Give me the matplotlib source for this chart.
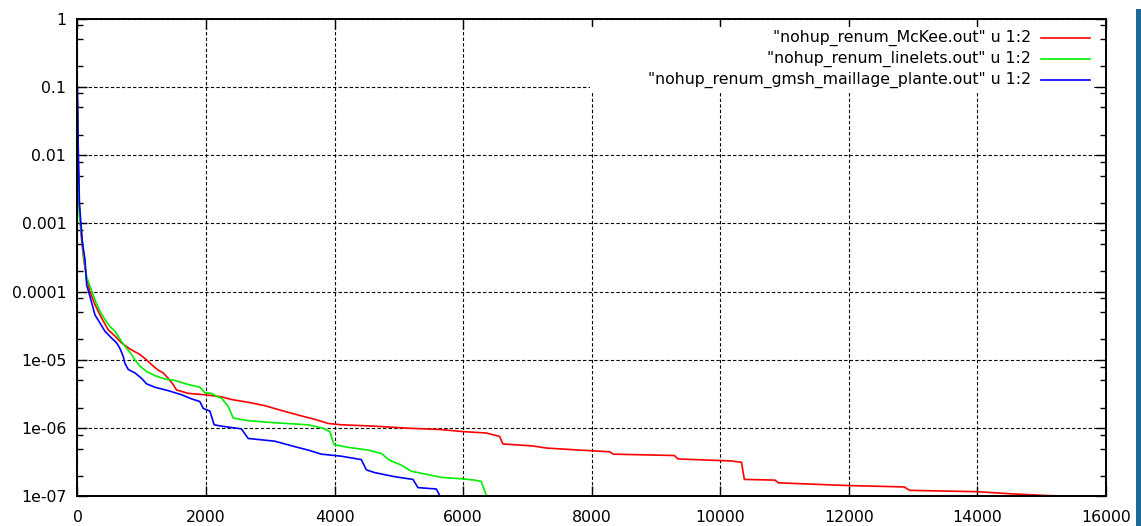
import matplotlib
matplotlib.use("Agg")

import matplotlib.pyplot as plt
import numpy as np
from matplotlib.patches import Rectangle
from matplotlib.ticker import FixedLocator, FixedFormatter, LogLocator, NullFormatter


# iteration number vs residual (log10 of residual)
mckee_x = [0, 10, 30, 60, 100, 142, 194, 272, 376, 479, 583, 686, 816, 971,
           1075, 1178, 1256, 1334, 1412, 1489, 1541, 1723, 1982, 2240, 2396,
           2655, 2914, 3173, 3484, 3692, 3898, 4105, 4623, 5141, 5659, 6000,
           6360, 6462, 6566, 6618, 7084, 7291, 7804, 8279, 8335, 9285, 9341,
           10179, 10330, 10374, 10849, 10905, 11995, 12861, 12945, 14006,
           14509, 15068, 15459]
mckee_log = [-1.2, -2.0, -2.8, -3.2, -3.55, -3.80, -4.0, -4.19, -4.39, -4.56,
             -4.65, -4.75, -4.84, -4.92, -5.0, -5.09, -5.15, -5.19, -5.27,
             -5.36, -5.44, -5.49, -5.51, -5.54, -5.58, -5.62, -5.67, -5.74,
             -5.82, -5.87, -5.93, -5.95, -5.97, -6.0, -6.02, -6.05, -6.07,
             -6.095, -6.12, -6.23, -6.26, -6.29, -6.32, -6.345, -6.38, -6.40,
             -6.45, -6.48, -6.50, -6.75, -6.76, -6.80, -6.84, -6.86, -6.91,
             -6.93, -6.96, -6.985, -6.998]

linelets_x = [0, 10, 30, 65, 100, 142, 194, 272, 350, 427, 505, 583, 686,
              764, 842, 894, 971, 1075, 1204, 1360, 1515, 1723, 1904, 1982,
              2085, 2163, 2240, 2344, 2422, 2655, 3069, 3587, 3820, 3924, 3991,
              4209, 4520, 4727, 4857, 5038, 5193, 5452, 5659, 5970, 6177, 6281,
              6359, 6436]
linelets_log = [-1.3, -2.1, -2.9, -3.15, -3.5, -3.78, -3.92, -4.12, -4.29,
                -4.41, -4.51, -4.58, -4.73, -4.83, -4.92, -5.0, -5.09, -5.17,
                -5.23, -5.28, -5.30, -5.36, -5.40, -5.48, -5.49, -5.53, -5.56,
                -5.68, -5.85, -5.89, -5.92, -5.95, -6.0, -6.05, -6.24, -6.28,
                -6.32, -6.37, -6.47, -6.54, -6.63, -6.68, -6.72, -6.74, -6.76,
                -6.78, -6.98, -7.03]

gmsh_x = [0, 10, 30, 75, 117, 142, 194, 272, 350, 427, 531, 609, 660, 712,
          738, 790, 894, 997, 1075, 1204, 1412, 1619, 1774, 1904, 1956, 2060,
          2127, 2240, 2551, 2655, 3069, 3380, 3587, 3794, 4105, 4416, 4494,
          4623, 4934, 5219, 5297, 5582, 5644]
gmsh_log = [-1.0, -1.8, -2.7, -3.27, -3.53, -3.90, -4.07, -4.34, -4.46, -4.58,
            -4.68, -4.75, -4.83, -4.95, -5.05, -5.14, -5.19, -5.27, -5.35,
            -5.40, -5.45, -5.51, -5.57, -5.61, -5.71, -5.75, -5.95, -5.97,
            -6.01, -6.15, -6.19, -6.27, -6.32, -6.38, -6.41, -6.46, -6.61,
            -6.65, -6.71, -6.75, -6.87, -6.89, -7.0]

labels = [
    '"nohup_renum_McKee.out" u 1:2',
    '"nohup_renum_linelets.out" u 1:2',
    '"nohup_renum_gmsh_maillage_plante.out" u 1:2',
]
colors = ["#ff0000", "#00ee00", "#0000ff"]

x_ticks = list(range(0, 16001, 2000))
y_ticks = [1, 0.1, 0.01, 0.001, 0.0001, 1e-05, 1e-06, 1e-07]
y_tick_labels = ["1", "0.1", "0.01", "0.001", "0.0001", "1e-05", "1e-06", "1e-07"]


def main():
    plt.rcParams["font.family"] = ["DejaVu Sans"]
    fig = plt.figure(figsize=(11.41, 5.26), dpi=100)
    ax = fig.add_axes([0.0679, 0.0561, 0.9014, 0.9087])

    series = [
        (mckee_x, mckee_log),
        (linelets_x, linelets_log),
        (gmsh_x, gmsh_log),
    ]
    for (xs, logs), color in zip(series, colors):
        ax.plot(xs, 10.0 ** np.array(logs), color=color, lw=1.2, zorder=3)

    ax.set_yscale("log")
    ax.set_xlim(0, 16000)
    ax.set_ylim(1e-7, 1)

    ax.xaxis.set_major_locator(FixedLocator(x_ticks))
    ax.yaxis.set_major_locator(FixedLocator(y_ticks))
    ax.yaxis.set_major_formatter(FixedFormatter(y_tick_labels))
    ax.yaxis.set_minor_locator(LogLocator(base=10, subs=(2, 5, 8)))
    ax.yaxis.set_minor_formatter(NullFormatter())

    ax.tick_params(which="both", direction="in", top=True, right=True,
                   labelsize=11.3, color="black", width=1.0)
    ax.tick_params(axis="y", which="major", length=7, pad=8)
    ax.tick_params(axis="y", which="minor", length=4)
    ax.tick_params(axis="x", which="major", length=7, pad=10)

    ax.grid(True, which="major", color="black", linestyle=(0, (3, 2)),
            linewidth=0.8, zorder=1)
    for spine in ax.spines.values():
        spine.set_linewidth(1.4)
        spine.set_zorder(5)

    # legend, drawn by hand so the labels are right-aligned like gnuplot
    ax.add_patch(Rectangle((0.498, 0.844), 0.488, 0.138,
                           transform=ax.transAxes, facecolor="white",
                           edgecolor="none", zorder=2))
    rows = [0.959, 0.915, 0.871]
    for label, color, y in zip(labels, colors, rows):
        ax.text(0.927, y, label, transform=ax.transAxes, ha="right",
                va="center", fontsize=11.3, zorder=4)
        ax.plot([0.937, 0.984], [y, y], transform=ax.transAxes,
                color=color, lw=1.2, zorder=4)

    # strip on the right edge of the screenshot
    fig.patches.append(Rectangle((1136 / 1141, 0), 5 / 1141, 517 / 526,
                                 transform=fig.transFigure,
                                 facecolor="#1d6996", edgecolor="none"))

    fig.savefig("out.png", dpi=100)
    plt.close(fig)


if __name__ == "__main__":
    main()
